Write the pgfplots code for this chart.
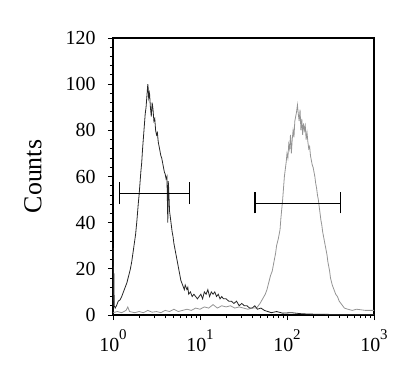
\documentclass[border=0pt]{standalone}
\usepackage{fontspec}
\setmainfont{Liberation Serif}
\usepackage{pgfplots}
\pgfplotsset{compat=1.18}
\newcommand{\dec}[1]{10\raisebox{12.5pt}{\fontsize{15}{15}\selectfont #1}}
\begin{document}
\begin{tikzpicture}
\path[use as bounding box] (-113bp,-59bp) rectangle (302bp,315bp);
\begin{axis}[
  at={(0,0)}, anchor=south west,
  scale only axis, width=261bp, height=277bp,
  xmin=0, xmax=3, ymin=0, ymax=120,
  xtick={0,1,2,3},
  xticklabels={\dec{0},\dec{1},\dec{2},\dec{3}},
  minor xtick={0.301,0.477,0.602,0.699,0.778,0.845,0.903,0.954,
               1.301,1.477,1.602,1.699,1.778,1.845,1.903,1.954,
               2.301,2.477,2.602,2.699,2.778,2.845,2.903,2.954},
  ytick={0,20,40,60,80,100,120},
  minor y tick num=4,
  xtick pos=bottom, ytick pos=left,
  tick align=outside,
  major tick length=5bp, minor tick length=3bp,
  every tick/.style={black, line width=0.9pt},
  axis line style={black, line width=1.1pt},
  /pgf/number format/assume math mode=true,
  xticklabel style={font=\fontsize{20}{22}\selectfont, yshift=-6bp},
  yticklabel style={font=\fontsize{20}{22}\selectfont, xshift=-9bp},
  every axis y label/.style={at={(axis description cs:-0.307,0.5)}, rotate=90, anchor=center, font=\fontsize{26}{28}\selectfont},
  ylabel={Counts},
  clip=true,
]
% grey series (stained)
\addplot[color=black!42, line width=0.8pt] coordinates {
(0,1)(0.05,1.5)(0.1,1)(0.15,2)(0.17,3.5)(0.19,1.5)(0.25,1)(0.3,1.5)(0.35,1)(0.4,2)
(0.45,1.2)(0.5,1.5)(0.55,1)(0.6,2)(0.65,1.5)(0.7,2.5)(0.75,1.5)(0.8,2)(0.85,2.5)(0.9,2)
(0.95,3)(1.0,2.5)(1.05,3.5)(1.1,3)(1.15,4.5)(1.2,3)(1.25,4)(1.3,3.5)(1.35,4)(1.4,3)
(1.45,3.5)(1.5,3)(1.55,2.5)(1.6,3)(1.65,3)(1.69,5)(1.72,7)(1.75,9)(1.77,11)(1.79,14)
(1.81,17)(1.83,19)(1.85,23)(1.87,27)(1.88,30)(1.90,33)(1.92,37)(1.93,42)(1.94,46)(1.95,50)
(1.96,55)(1.97,60)(1.98,63)(1.99,66)(2.00,70)(2.01,68)(2.02,74)(2.03,72)(2.04,78)(2.05,70)
(2.06,76)(2.07,80)(2.08,77)(2.09,84)(2.10,86)(2.11,88)(2.12,91)(2.13,87)(2.14,84)(2.15,89)
(2.16,80)(2.17,85)(2.18,78)(2.19,83)(2.20,80)(2.21,82)(2.22,76)(2.23,79)(2.24,75)(2.25,72)
(2.26,73)(2.27,69)(2.28,67)(2.29,65)(2.30,64)(2.31,62)(2.32,60)(2.33,57)(2.34,55)(2.35,52)
(2.36,50)(2.37,47)(2.38,44)(2.39,41)(2.40,39)(2.41,36)(2.42,34)(2.43,32)(2.44,30)(2.45,28)
(2.46,26)(2.47,23)(2.48,21)(2.49,19)(2.50,16)(2.52,13)(2.54,11)(2.56,9)(2.58,8)(2.60,6)
(2.62,5)(2.64,4)(2.66,3)(2.70,2.5)(2.75,2)(2.8,2.5)(2.9,2)(3.0,2)
};
% black series (control)
\addplot[color=black!85, line width=0.8pt] coordinates {
(0.000,0)(0.003,29)(0.006,6)(0.010,18)(0.014,4)(0.025,3)(0.04,4)(0.06,6)(0.08,6.5)(0.10,8)
(0.12,10)(0.14,12)(0.16,14)(0.18,17)(0.20,20)(0.215,23)(0.23,27)(0.245,31)(0.26,35)(0.275,41)
(0.29,48)(0.30,52)(0.31,57)(0.32,62)(0.33,66)(0.34,72)(0.35,77)(0.36,82)(0.37,87)(0.38,90)
(0.39,95)(0.40,100)(0.405,98)(0.41,94)(0.42,96)(0.43,90)(0.44,86)(0.45,92)(0.46,89)(0.47,84)
(0.48,85)(0.49,80)(0.50,78)(0.51,79)(0.52,75)(0.53,73)(0.54,71)(0.55,69)(0.56,68)(0.57,66)
(0.58,64)(0.59,62)(0.60,61)(0.61,59)(0.62,60)(0.63,40)(0.635,58)(0.64,55)(0.65,45)(0.66,42)
(0.67,39)(0.68,36)(0.69,34)(0.70,31)(0.72,27)(0.74,23)(0.76,19)(0.78,15)(0.80,13)(0.82,11)
(0.83,13)(0.85,11)(0.86,12)(0.87,9)(0.89,10)(0.91,8)(0.93,9)(0.95,8)(0.97,7)(0.99,8)
(1.01,9)(1.03,7)(1.05,10)(1.07,9)(1.09,11)(1.11,8)(1.13,10)(1.15,9)(1.17,10)(1.19,8)
(1.21,9)(1.23,7)(1.25,8)(1.27,7)(1.30,7)(1.33,6)(1.36,6)(1.39,5)(1.42,6)(1.45,4)
(1.48,5)(1.51,4)(1.54,4)(1.57,3)(1.60,3)(1.63,4)(1.66,2.5)(1.70,3)(1.74,2)(1.78,1.5)
(1.82,1)(1.88,1.5)(1.95,0.8)(2.05,1)(2.15,0.6)(2.25,0.4)(2.4,0.3)(2.6,0.2)(3.0,0.2)
};
% gates
\addplot[black, line width=1.1pt] coordinates {(0.073,52.7)(0.877,52.7)};
\addplot[black, line width=1.1pt] coordinates {(0.073,48)(0.073,57.5)};
\addplot[black, line width=1.1pt] coordinates {(0.877,48)(0.877,57.5)};
\addplot[black, line width=1.1pt] coordinates {(1.632,48.3)(2.62,48.3)};
\addplot[black, line width=1.1pt] coordinates {(1.632,44)(1.632,53.4)};
\addplot[black, line width=1.1pt] coordinates {(2.62,44)(2.62,53.4)};
\end{axis}
\end{tikzpicture}
\end{document}
